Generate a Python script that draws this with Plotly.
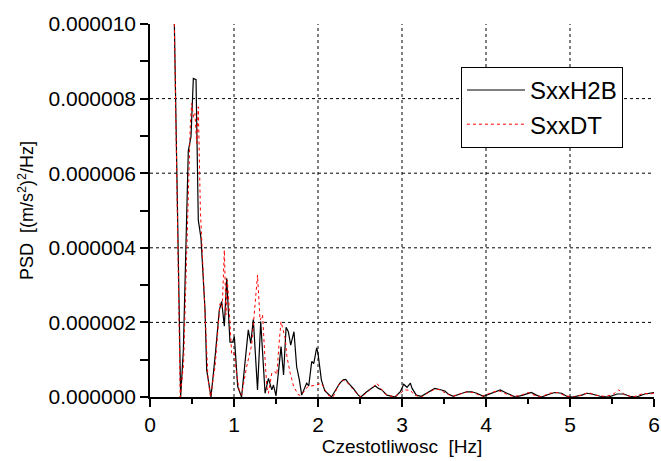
import plotly.graph_objects as go

SCALE = 1e-6  # values below are in units of 1e-6 (m/s^2)^2/Hz

freq_h2b = [0.29, 0.365, 0.397, 0.425, 0.456, 0.488, 0.516, 0.548, 0.575, 0.607,
            0.655, 0.675, 0.726, 0.78, 0.825, 0.853, 0.885, 0.913, 0.952, 0.984,
            1.004, 1.044, 1.09, 1.17, 1.2, 1.23, 1.28, 1.318, 1.37, 1.41,
            1.45, 1.47, 1.5, 1.56, 1.59, 1.62, 1.647, 1.675, 1.714, 1.746,
            1.778, 1.806, 1.865, 1.89, 1.925, 1.95, 1.984, 2.0, 2.04, 2.08,
            2.16, 2.23, 2.26, 2.3, 2.33, 2.36, 2.42, 2.48, 2.51, 2.58,
            2.64, 2.68, 2.72, 2.76, 2.82, 2.92, 2.98, 3.02, 3.06, 3.1,
            3.12, 3.17, 3.23, 3.29, 3.33, 3.39, 3.45, 3.51, 3.55, 3.61,
            3.69, 3.77, 3.83, 3.89, 3.97, 4.07, 4.17, 4.23, 4.29, 4.35,
            4.44, 4.48, 4.54, 4.6, 4.66, 4.76, 4.82, 4.9, 4.96, 5.03,
            5.14, 5.2, 5.26, 5.36, 5.46, 5.56, 5.64, 5.71, 5.79, 5.89,
            5.97, 6.0]
psd_h2b = [10.0, 0.0, 1.26, 3.6, 6.6, 6.98, 8.54, 8.51, 4.74, 4.26,
           2.33, 0.72, 0.0, 1.2, 2.33, 2.56, 1.9, 3.18, 1.47, 1.47,
           1.62, 0.28, 0.0, 1.8, 1.44, 2.08, 0.19, 2.02, 0.1, 0.5,
           0.19, 0.32, 0.03, 1.35, 0.59, 1.87, 1.75, 1.39, 1.75, 0.81,
           0.46, 0.05, 0.37, 0.3, 0.95, 0.9, 1.32, 1.17, 0.46, 0.17,
           0.0, 0.26, 0.37, 0.46, 0.47, 0.38, 0.23, 0.05, 0.0, 0.14,
           0.23, 0.3, 0.23, 0.19, 0.05, 0.0, 0.14, 0.34, 0.26, 0.37,
           0.23, 0.05, 0.02, 0.1, 0.17, 0.23, 0.2, 0.16, 0.08, 0.02,
           0.08, 0.14, 0.14, 0.1, 0.02, 0.1, 0.19, 0.12, 0.05, 0.0,
           0.05, 0.08, 0.12, 0.05, 0.0, 0.08, 0.12, 0.1, 0.02, 0.0,
           0.05, 0.1, 0.08, 0.02, 0.0, 0.08, 0.08, 0.02, 0.0, 0.08,
           0.1, 0.12]

freq_dt = [0.29, 0.36, 0.40, 0.43, 0.46, 0.48, 0.496, 0.52, 0.535, 0.556,
           0.575, 0.6, 0.62, 0.66, 0.69, 0.72, 0.774, 0.833, 0.86, 0.885,
           0.905, 0.92, 0.932, 0.972, 1.0, 1.03, 1.06, 1.09, 1.15, 1.21,
           1.25, 1.28, 1.31, 1.34, 1.37, 1.39, 1.41, 1.45, 1.49, 1.51,
           1.54, 1.56, 1.61, 1.63, 1.67, 1.71, 1.77, 1.8, 1.88, 1.98,
           2.04, 2.12, 2.18, 2.24, 2.3, 2.34, 2.4, 2.48, 2.52, 2.6,
           2.66, 2.7, 2.74, 2.8, 2.9, 2.98, 3.03, 3.1, 3.15, 3.23,
           3.3, 3.38, 3.45, 3.52, 3.6, 3.7, 3.78, 3.85, 3.95, 4.07,
           4.15, 4.22, 4.3, 4.4, 4.5, 4.56, 4.66, 4.75, 4.85, 4.95,
           5.05, 5.15, 5.22, 5.3, 5.4, 5.5, 5.58, 5.65, 5.75, 5.88,
           5.95, 6.0]
psd_dt = [10.0, 0.0, 0.9, 3.2, 6.0, 7.3, 7.87, 7.5, 7.6, 6.8,
          7.78, 5.0, 4.0, 2.2, 0.5, 0.0, 0.81, 2.5, 2.4, 3.94,
          2.2, 3.14, 2.78, 1.17, 1.2, 0.64, 0.2, 0.05, 0.81, 1.39,
          2.42, 3.27, 2.06, 2.2, 1.0, 0.28, 0.1, 0.64, 0.68, 0.6,
          1.53, 2.02, 1.57, 1.08, 0.63, 0.28, 0.05, 0.05, 0.28, 0.32,
          0.37, 0.05, 0.0, 0.3, 0.45, 0.41, 0.25, 0.05, 0.0, 0.15,
          0.28, 0.37, 0.25, 0.08, 0.0, 0.1, 0.19, 0.18, 0.05, 0.0,
          0.1, 0.2, 0.2, 0.1, 0.02, 0.08, 0.14, 0.12, 0.02, 0.12,
          0.17, 0.1, 0.03, 0.03, 0.12, 0.06, 0.0, 0.1, 0.12, 0.03,
          0.0, 0.06, 0.12, 0.05, 0.02, 0.05, 0.19, 0.06, 0.0, 0.1,
          0.08, 0.1]

x_ticks = [0, 1, 2, 3, 4, 5, 6]
y_ticks = [0, 2e-6, 4e-6, 6e-6, 8e-6, 1e-5]
x_grid = [1, 2, 3, 4, 5]
y_grid = [2e-6, 4e-6, 6e-6, 8e-6]

FONT = "Arial, Liberation Sans, sans-serif"

fig = go.Figure()
fig.add_trace(go.Scatter(x=freq_h2b, y=[v * SCALE for v in psd_h2b], mode="lines",
                         name="SxxH2B", line=dict(color="black", width=1.2)))
fig.add_trace(go.Scatter(x=freq_dt, y=[v * SCALE for v in psd_dt], mode="lines",
                         name="SxxDT", line=dict(color="red", width=1, dash="dot")))

shapes = []
for gx in x_grid:
    shapes.append(dict(type="line", xref="x", yref="paper", x0=gx, x1=gx, y0=0, y1=1,
                       line=dict(color="black", width=1, dash="dot"), layer="below"))
for gy in y_grid:
    shapes.append(dict(type="line", xref="paper", yref="y", x0=0, x1=1, y0=gy, y1=gy,
                       line=dict(color="black", width=1, dash="dot"), layer="below"))

fig.update_layout(
    width=661, height=461,
    margin=dict(l=150, r=7, t=24, b=64, autoexpand=False),
    paper_bgcolor="white", plot_bgcolor="white",
    font=dict(family=FONT, size=20, color="black"),
    shapes=shapes,
    showlegend=True,
    legend=dict(x=0.617, y=0.885, xanchor="left", yanchor="top",
                bordercolor="black", borderwidth=1, bgcolor="white",
                font=dict(size=24), itemwidth=58, tracegroupgap=0),
    xaxis=dict(range=[0, 6], tickvals=x_ticks, ticktext=[str(t) for t in x_ticks],
               automargin=False,
               showgrid=False, zeroline=False, showline=True, linecolor="black",
               linewidth=1.5, ticks="outside", ticklen=8, tickwidth=1.5, tickcolor="black",
               minor=dict(dtick=0.5, ticks="outside", ticklen=5, tickwidth=1.5,
                          tickcolor="black", showgrid=False),
               tickfont=dict(size=21),
               title=dict(text="Czestotliwosc\u00a0 [Hz]", font=dict(size=19), standoff=4)),
    yaxis=dict(range=[0, 1e-5], tickvals=y_ticks, tickformat=".6f",
               automargin=False,
               showgrid=False, zeroline=False, showline=True, linecolor="black",
               linewidth=1.5, ticks="outside", ticklen=8, tickwidth=1.5, tickcolor="black",
               minor=dict(dtick=1e-6, ticks="outside", ticklen=8, tickwidth=1.5,
                          tickcolor="black", showgrid=False),
               tickfont=dict(size=21),
               title=dict(text="PSD\u00a0 [(m/s<sup>2</sup>)<sup>2</sup>/Hz]", font=dict(size=18),
                          standoff=10)),
)

fig.write_html("out.html", config={"displayModeBar": False},
               post_script="document.body.style.margin='0';document.body.style.padding='0';")
